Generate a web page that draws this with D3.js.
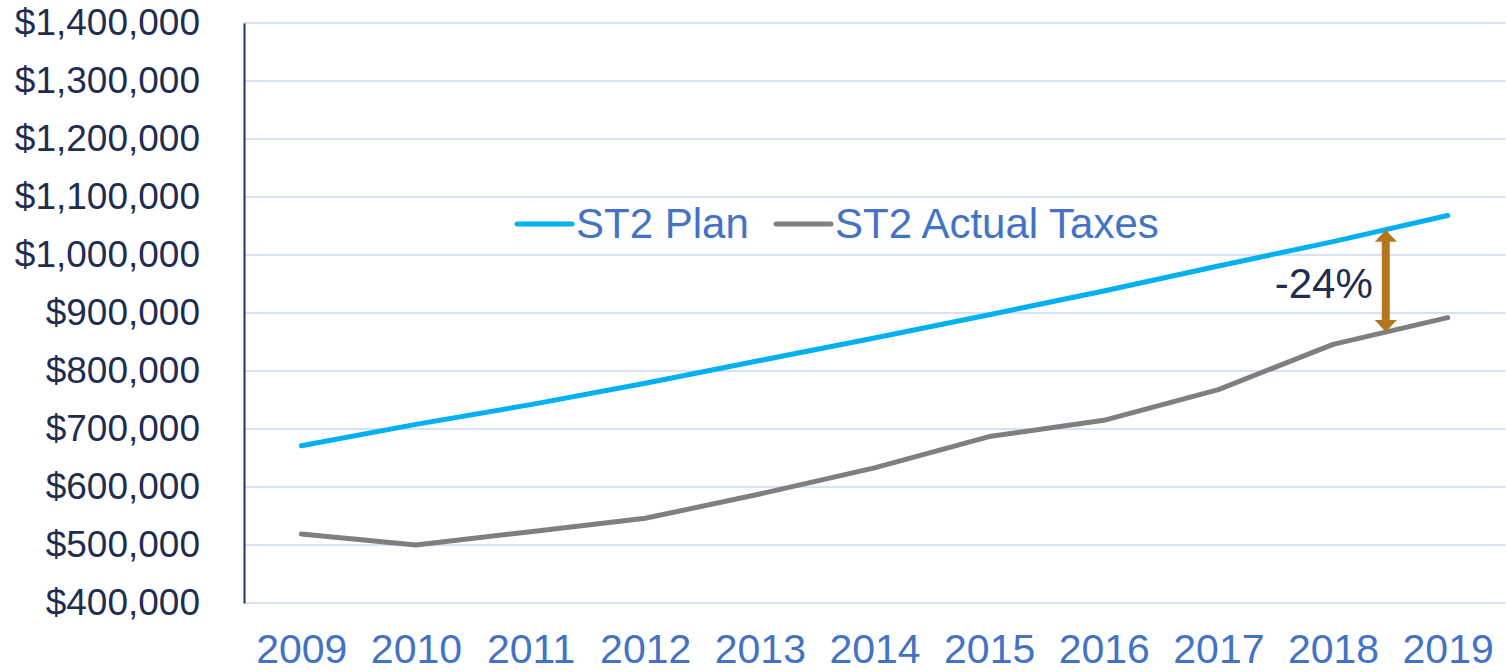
<!DOCTYPE html>
<html>
  <head>
    <meta charset="utf-8">
    <title>ST2 Plan vs Actual Taxes</title>
    <style>
body {
	margin: 0;
	background: #fff;
}
svg text {
	font-family: Arial, "Liberation Sans", sans-serif;
}
.grid line {
	stroke: #d9e0f1;
	stroke-width: 2;
}
</style>
  </head>
  <body>
    <svg width="1509" height="672"></svg>
<script src="https://d3js.org/d3.v7.min.js"></script>
<script>

// chart data
var years = ["2009", "2010", "2011", "2012", "2013", "2014", "2015", "2016", "2017", "2018", "2019"];
var planValues = [671000, 708000, 742000, 779000, 818000, 857000, 897000, 938000, 981000, 1023000, 1068000];
var actualValues = [519000, 500000, 523000, 546000, 588000, 633000, 687000, 715000, 768000, 846000, 892000];
var yTicks = [400000, 500000, 600000, 700000, 800000, 900000, 1000000, 1100000, 1200000, 1300000, 1400000];
var seriesNames = ["ST2 Plan", "ST2 Actual Taxes"];
var gapLabel = "-24%";

var svg = d3.select("svg");

// plot area (note: "top" is reserved by the browser, so use other names)
var plotLeft = 244, plotRight = 1505, plotTop = 23, plotBottom = 603;

var x = d3.scalePoint()
	.domain(years)
	.range([plotLeft, plotRight])
	.padding(0.5);

var y = d3.scaleLinear()
	.domain([400000, 1400000])
	.range([plotBottom, plotTop]);

var colors = ["#00b0f0", "#7f7f7f"];

// horizontal gridlines
svg.append("g")
	.attr("class", "grid")
	.selectAll("line")
	.data(yTicks)
	.enter().append("line")
	.attr("x1", plotLeft)
	.attr("x2", plotRight)
	.attr("y1", function(d) { return y(d); })
	.attr("y2", function(d) { return y(d); });

// y axis labels
var yAxis = svg.append("g")
	.attr("transform", "translate(" + plotLeft + ",0)")
	.call(d3.axisLeft(y)
		.tickValues(yTicks)
		.tickSize(0)
		.tickPadding(44)
		.tickFormat(function(d) { return "$" + d3.format(",")(d); }));
yAxis.select(".domain")
	.attr("stroke", "#1f3864")
	.attr("stroke-width", 2);
yAxis.selectAll("text")
	.attr("fill", "#1f2d50")
	.attr("font-size", "37px")
	.attr("font-family", "Arial, 'Liberation Sans', sans-serif");

// x axis labels
var xAxis = svg.append("g")
	.attr("transform", "translate(0," + plotBottom + ")")
	.call(d3.axisBottom(x).tickSize(0).tickPadding(31));
xAxis.select(".domain").remove();
xAxis.selectAll("text")
	.attr("fill", "#4472c4")
	.attr("font-size", "41px")
	.attr("font-family", "Arial, 'Liberation Sans', sans-serif");

// lines
var line = d3.line()
	.x(function(d, i) { return x(years[i]); })
	.y(function(d) { return y(d); });

[planValues, actualValues].forEach(function(vals, k) {
	svg.append("path")
		.attr("d", line(vals))
		.attr("fill", "none")
		.attr("stroke", colors[k])
		.attr("stroke-width", 5)
		.attr("stroke-linecap", "round")
		.attr("stroke-linejoin", "round");
});

// legend
var legendX = [517, 776];
var legend = svg.append("g");
seriesNames.forEach(function(name, k) {
	legend.append("line")
		.attr("x1", legendX[k])
		.attr("x2", legendX[k] + 55)
		.attr("y1", 224)
		.attr("y2", 224)
		.attr("stroke", colors[k])
		.attr("stroke-width", 5)
		.attr("stroke-linecap", "round");
	legend.append("text")
		.attr("x", legendX[k] + 59)
		.attr("y", 238)
		.attr("fill", "#4472c4")
		.attr("font-size", "42px")
		.text(name);
});

// gap arrow between 2018 and 2019
var t = 0.46;
var ax = x("2018") + t * (x("2019") - x("2018"));
var planAt = planValues[9] + t * (planValues[10] - planValues[9]);
var actualAt = actualValues[9] + t * (actualValues[10] - actualValues[9]);
var y1 = y(planAt), y2 = y(actualAt);
var arrowColor = "#b3761f";

svg.append("line")
	.attr("x1", ax).attr("x2", ax)
	.attr("y1", y1 + 10).attr("y2", y2 - 10)
	.attr("stroke", arrowColor)
	.attr("stroke-width", 8);
svg.append("path")
	.attr("d", "M" + ax + "," + y1 + "L" + (ax - 11) + "," + (y1 + 12) + "L" + (ax + 11) + "," + (y1 + 12) + "Z")
	.attr("fill", arrowColor);
svg.append("path")
	.attr("d", "M" + ax + "," + y2 + "L" + (ax - 11) + "," + (y2 - 12) + "L" + (ax + 11) + "," + (y2 - 12) + "Z")
	.attr("fill", arrowColor);

svg.append("text")
	.attr("x", ax - 13)
	.attr("y", 298)
	.attr("text-anchor", "end")
	.attr("fill", "#1f2d50")
	.attr("font-size", "42px")
	.text(gapLabel);

</script>
  </body>
</html>
